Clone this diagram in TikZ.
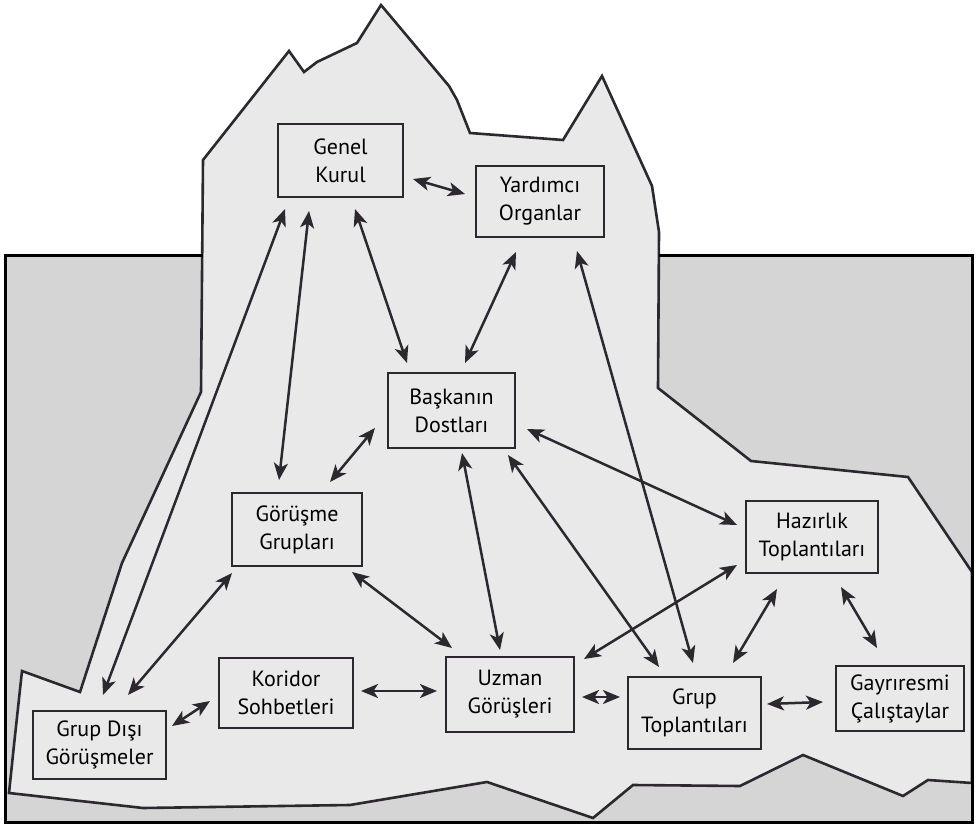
\documentclass[tikz,border=0pt]{standalone}
\usepackage{fontspec}
\setmainfont{PT Sans}
\usetikzlibrary{arrows.meta,calc}
\definecolor{sea}{RGB}{213,213,213}
\definecolor{berg}{RGB}{233,233,233}
\definecolor{ink}{RGB}{45,40,48}
\begin{document}
\begin{tikzpicture}[x=1pt,y=-1pt,
  box/.style={draw=ink,line width=2.6pt,fill=berg,align=center,inner sep=0pt,
    font=\fontsize{22}{28}\selectfont,text=black},
  arr/.style={draw=ink,line width=2.5pt,
    {Stealth[length=17pt,width=14pt,inset=4.5pt]}-{Stealth[length=17pt,width=14pt,inset=4.5pt]}},
  outline/.style={draw=ink,line width=2.6pt,line join=miter}]
\useasboundingbox (0,0) rectangle (980,826);
% sea
\fill[sea] (5,256) rectangle (972,822);
% berg
\path[outline,fill=berg] (203,160) -- (289,51) -- (304,72) -- (317,62) -- (357,43) -- (381,5)
  -- (449,86) -- (457,100) -- (470,133) -- (563,140) -- (602,76) -- (652,186) -- (659,232)
  -- (658,388) -- (751,461) -- (908,477) -- (972,572) -- (972,783) -- (928,780) -- (903,796)
  -- (803,755) -- (740,786) -- (633,785) -- (593,818) -- (487,782) -- (350,805) -- (143,808)
  -- (9,793) -- (14,745) -- (22,671) -- (80,692) -- (122,563) -- (201,392) -- cycle;
% frame
\draw[black,line width=3pt] (203,256) -- (5,256) -- (5,822) -- (972,822) -- (972,256) -- (659,256);
% nodes
\node[box,minimum width=125pt,minimum height=73pt] (genel) at (340.5,160.5) {Genel\\Kurul};
\node[box,minimum width=128pt,minimum height=71pt] (yard) at (540,201.5) {Yardımcı\\Organlar};
\node[box,minimum width=127pt,minimum height=75pt] (bask) at (451.5,410.5) {Başkanın\\Dostları};
\node[box,minimum width=130pt,minimum height=73pt] (gorus) at (297,529.5) {Görüşme\\Grupları};
\node[box,minimum width=132pt,minimum height=72pt] (hazir) at (812,537) {Hazırlık\\Toplantıları};
\node[box,minimum width=134pt,minimum height=70pt] (kor) at (286,693) {Koridor\\Sohbetleri};
\node[box,minimum width=128pt,minimum height=75pt] (uzman) at (510,694.5) {Uzman\\Görüşleri};
\node[box,minimum width=133pt,minimum height=72pt] (grup) at (694.5,713) {Grup\\Toplantıları};
\node[box,minimum width=128pt,minimum height=65pt] (gayri) at (900,698.5) {Gayrıresmi\\Çalıştaylar};
\node[box,minimum width=133pt,minimum height=68pt] (disi) at (99.5,745) {Grup Dışı\\Görüşmeler};
% connectors
\draw[arr] ($(genel)+(72.5,18.5)$) -- ($(yard)+(-75,-7.5)$);
\draw[arr] ($(genel)+(14.5,48.5)$) -- ($(bask)+(-44.5,-47.5)$);
\draw[arr] ($(yard)+(-24,50.5)$) -- ($(bask)+(13.5,-47.5)$);
\draw[arr] ($(genel)+(-31.5,50.5)$) -- ($(gorus)+(-18,-49.5)$);
\draw[arr] ($(genel)+(-55.5,48.5)$) -- ($(disi)+(3.5,-50)$);
\draw[arr] ($(yard)+(37,49.5)$) -- ($(grup)+(-1.5,-50)$);
\draw[arr] ($(bask)+(-76.5,17.5)$) -- ($(gorus)+(33,-47.5)$);
\draw[arr] ($(bask)+(75.5,18.5)$) -- ($(hazir)+(-75,-12)$);
\draw[arr] ($(bask)+(10.5,42.5)$) -- ($(uzman)+(-10,-44.5)$);
\draw[arr] ($(bask)+(56.5,44.5)$) -- ($(grup)+(-35.5,-46)$);
\draw[arr] ($(gorus)+(55,42.5)$) -- ($(uzman)+(-58,-46.5)$);
\draw[arr] ($(gorus)+(-65,43.5)$) -- ($(disi)+(28.5,-50)$);
\draw[arr] ($(disi)+(72.5,-19)$) -- ($(kor)+(-76,8)$);
\draw[arr] ($(kor)+(75,-2)$) -- ($(uzman)+(-73,-3.5)$);
\draw[arr] ($(uzman)+(74,-35.5)$) -- ($(hazir)+(-75,28)$);
\draw[arr] ($(uzman)+(72,2.5)$) -- ($(grup)+(-74.5,-16)$);
\draw[arr] ($(grup)+(38.5,-50)$) -- ($(hazir)+(-35,52)$);
\draw[arr] ($(grup)+(72.5,-9)$) -- ($(gayri)+(-77,3.5)$);
\draw[arr] ($(hazir)+(29,50)$) -- ($(gayri)+(-23,-50.5)$);
\end{tikzpicture}
\end{document}
